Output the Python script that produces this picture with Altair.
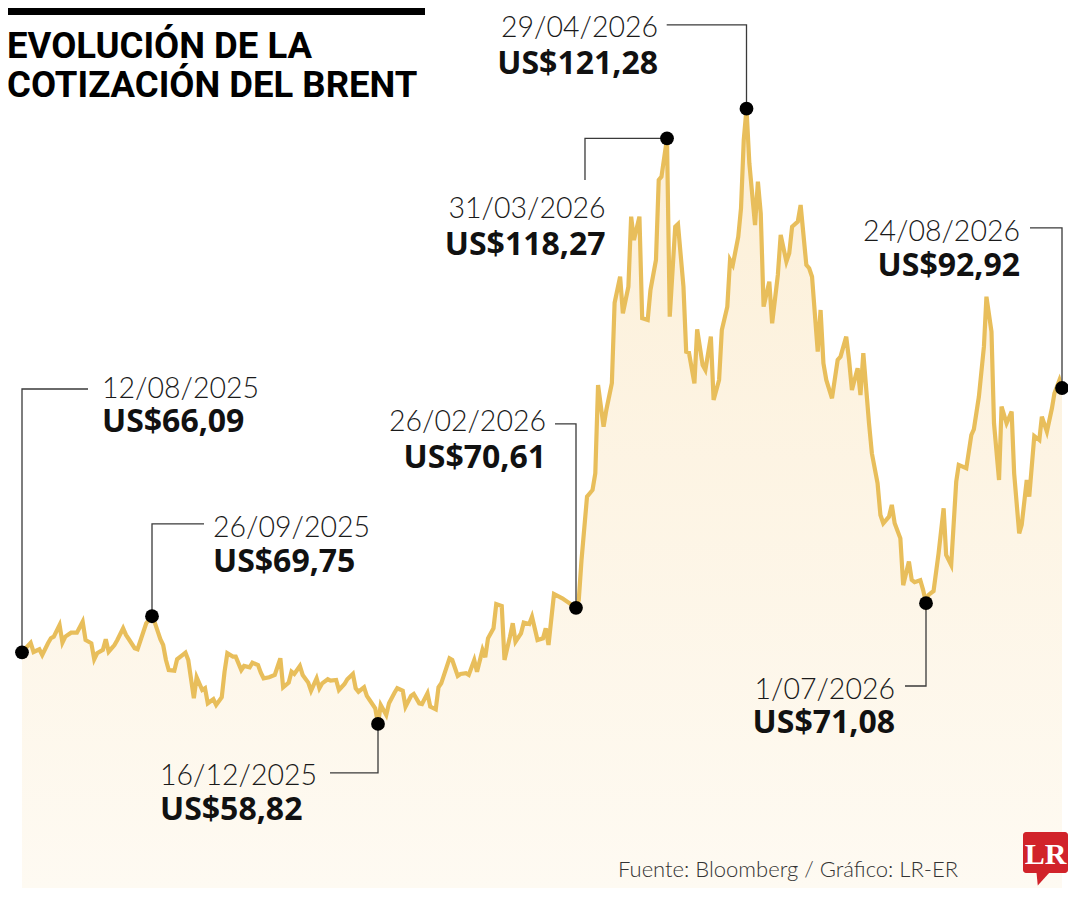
import altair as alt
import pandas as pd

# ---------------- data ----------------
# days elapsed since 12/08/2025 and Brent price (US$/barrel)
DIAS = [0, 3, 4, 6, 7, 9, 10, 11, 13, 14, 15, 17, 19, 21, 22, 24, 25, 26, 28, 29,
        30, 32, 33, 35, 36, 37, 39, 40, 43, 45, 46, 48, 49, 50, 51, 53, 54, 56, 57, 58,
        60, 61, 63, 64, 65, 67, 68, 70, 71, 72, 74, 75, 77, 78, 80, 81, 83, 84, 85, 87,
        89, 91, 92, 94, 95, 96, 98, 99, 101, 102, 104, 105, 106, 108, 109, 111, 112, 114, 115, 117,
        118, 119, 121, 122, 123, 125, 126, 127, 129, 130, 132, 133, 135, 136, 138, 139, 141, 142, 144, 145,
        147, 148, 149, 152, 153, 155, 156, 158, 159, 161, 162, 164, 165, 166, 168, 169, 171, 172, 174, 175,
        176, 178, 179, 181, 182, 184, 186, 187, 188, 190, 193, 198, 199, 200, 202, 204, 205, 206, 208, 209,
        211, 212, 214, 215, 217, 218, 219, 221, 222, 224, 225, 227, 228, 229, 231, 232, 234, 235, 237, 238,
        239, 241, 242, 244, 245, 247, 248, 250, 251, 253, 254, 255, 257, 258, 259, 260, 261, 263, 264, 265,
        266, 268, 269, 271, 272, 274, 275, 276, 278, 279, 281, 282, 283, 285, 286, 287, 288, 290, 292, 293,
        295, 296, 297, 299, 300, 301, 303, 304, 306, 307, 308, 310, 311, 312, 314, 315, 317, 318, 319, 321,
        322, 323, 324, 326, 328, 330, 331, 333, 335, 336, 339, 341, 342, 344, 346, 347, 349, 350, 352, 353,
        355, 357, 358, 360, 361, 363, 364, 366, 368, 369, 371, 373, 374, 376, 377]
PRECIOS = [66.09, 67.04, 66.12, 66.40, 65.82, 67.01, 67.51, 67.68, 68.86, 67.07, 67.68, 68.08, 68.08, 69.20, 67.34, 67.01, 65.38, 65.99, 66.33, 67.41,
           66.15, 66.83, 67.34, 68.53, 67.85, 67.41, 66.50, 66.40, 69.04, 69.75, 69.10, 67.41, 66.83, 65.31, 64.29, 64.22, 65.38, 65.82, 66.05, 65.31,
           61.42, 63.55, 62.26, 62.44, 60.91, 61.32, 60.74, 61.52, 64.12, 65.99, 65.65, 65.65, 64.29, 64.70, 64.57, 65.03, 64.80, 64.02, 63.45, 63.55,
           63.79, 65.48, 62.54, 63.01, 64.12, 63.89, 64.70, 63.79, 63.01, 62.19, 63.45, 62.44, 62.94, 63.35, 63.21, 63.28, 62.26, 62.87, 63.35, 63.89,
           62.44, 62.09, 62.54, 61.66, 61.25, 60.41, 58.82, 60.74, 59.73, 60.91, 61.99, 62.44, 62.19, 60.57, 61.66, 61.86, 60.91, 60.84, 61.93, 60.57,
           60.30, 62.54, 62.94, 65.48, 65.31, 63.69, 63.89, 63.96, 63.79, 65.31, 64.12, 66.33, 65.58, 67.51, 68.53, 70.99, 70.79, 65.31, 67.68, 69.04,
           67.17, 68.02, 69.10, 68.96, 69.71, 67.34, 67.51, 68.53, 66.83, 72.01, 71.57, 70.61, 71.40, 75.46, 81.89, 82.57, 84.26, 93.23, 88.99, 90.69,
           93.40, 101.58, 104.22, 100.51, 103.21, 110.32, 107.95, 110.32, 100.00, 99.83, 102.87, 105.92, 114.04, 114.38, 118.27, 100.16, 109.30, 109.57, 103.21, 96.61,
           96.51, 93.40, 98.88, 95.26, 94.75, 98.13, 91.71, 93.74, 98.81, 101.18, 105.92, 105.41, 108.28, 111.17, 118.10, 121.28, 115.74, 109.47, 113.87, 110.66,
           101.18, 103.72, 99.49, 104.40, 108.46, 105.75, 106.60, 109.30, 109.81, 111.50, 105.41, 105.08, 104.22, 96.61, 100.84, 95.43, 93.74, 91.88, 95.77, 96.10,
           98.13, 95.77, 92.72, 94.92, 92.21, 96.45, 89.34, 86.29, 83.25, 80.03, 79.19, 79.86, 81.05, 79.19, 77.66, 72.90, 75.30, 73.43, 73.20, 73.40,
           72.40, 71.08, 71.91, 72.31, 76.14, 80.71, 75.97, 74.95, 83.41, 85.11, 84.77, 88.15, 88.73, 92.04, 97.12, 102.19, 98.64, 89.34, 83.58, 91.03,
           89.34, 90.52, 84.26, 78.17, 79.02, 83.58, 81.89, 88.05, 87.64, 90.01, 88.49, 90.86, 92.39, 93.74, 92.92]

ANOT_FECHAS = ["12/08/2025", "26/09/2025", "16/12/2025", "26/02/2026",
               "31/03/2026", "29/04/2026", "1/07/2026", "24/08/2026"]
ANOT_DIAS = [0, 45, 126, 198, 231, 260, 323, 377]
ANOT_PRECIOS = [66.09, 69.75, 58.82, 70.61, 118.27, 121.28, 71.08, 92.92]

TITULO_1 = "EVOLUCIÓN DE LA"
TITULO_2 = "COTIZACIÓN DEL BRENT"
FUENTE = "Fuente: Bloomberg / Gráfico: LR-ER"

# ---------------- layout ----------------
W, H = 1060, 880
X_RANGO = [14, 144, 370, 568, 659, 738.5, 918, 1054]   # pixel position of each anchor date
Y_DOM = [42.16, 131.50]

# leader lines (day, price level) per annotation
GUIAS = [
    [(0, 66.09), (0, 92.82), (22.85, 92.82)],
    [(45, 69.75), (45, 79.12), (63.64, 79.12)],
    [(126, 58.82), (126, 53.84), (108.80, 53.84)],
    [(198, 70.61), (198, 89.27), (190.36, 89.27)],
    [(201.26, 114.04), (201.26, 118.27), (231, 118.27)],
    [(260, 121.28), (260, 129.78), (230.89, 129.78)],
    [(323, 71.08), (323, 62.67), (315.63, 62.67)],
    [(377, 92.92), (377, 109.17), (364.29, 109.17)],
]
# label anchor: day, alignment, baseline level of date, baseline level of value
ETIQ = [
    (27.69, "left", 91.91, 88.46),
    (66.86, "left", 77.80, 74.24),
    (47.87, "left", 52.62, 49.07),
    (187.09, "right", 88.56, 84.80),
    (208.70, "right", 110.13, 106.43),
    (227.74, "right", 128.51, 124.85),
    (312.12, "right", 61.35, 57.90),
    (360.32, "right", 107.85, 104.30),
]

ORO = "#E8BE5B"
FONT_LIGHT = "Lato"
FONT_BOLD = "Open Sans"
FONT_TIT = "Roboto"

# ---------------- frames ----------------
serie = pd.DataFrame({"dia": DIAS, "precio": PRECIOS})

puntos = pd.DataFrame({"dia": ANOT_DIAS, "precio": ANOT_PRECIOS})

guias = pd.DataFrame(
    [{"id": i, "orden": j, "dia": d, "precio": p}
     for i, g in enumerate(GUIAS) for j, (d, p) in enumerate(g)]
)

etq = pd.DataFrame([
    {"dia": e[0], "al": e[1], "yf": e[2], "yv": e[3], "fecha": f,
     "valor": "US$" + f"{v:.2f}".replace(".", ",")}
    for e, f, v in zip(ETIQ, ANOT_FECHAS, ANOT_PRECIOS)
])


def X(field="dia"):
    return alt.X(f"{field}:Q", scale=alt.Scale(domain=ANOT_DIAS, range=X_RANGO), axis=None)


def Y(field="precio"):
    return alt.Y(f"{field}:Q", scale=alt.Scale(domain=Y_DOM, nice=False, zero=False), axis=None)


gradiente = alt.Gradient(
    gradient="linear",
    stops=[alt.GradientStop(color="#FCEFD7", offset=0),
           alt.GradientStop(color="#FEFAF2", offset=1)],
    x1=1, x2=1, y1=0, y2=1,
)

area = alt.Chart(serie).mark_area(color=gradiente).encode(
    x=X(), y=Y(), y2=alt.datum(Y_DOM[0]))
linea = alt.Chart(serie).mark_line(color=ORO, strokeWidth=4.2).encode(x=X(), y=Y())

lider = alt.Chart(guias).mark_line(color="#3a3a3a", strokeWidth=1.3).encode(
    x=X(), y=Y(), detail="id:N", order="orden:Q")

dots = alt.Chart(puntos).mark_circle(size=190, color="#000000", opacity=1).encode(x=X(), y=Y())

textos = []
for al in ["left", "right"]:
    sub = etq[etq["al"] == al]
    textos.append(alt.Chart(sub).mark_text(
        align=al, baseline="alphabetic", font=FONT_LIGHT, fontSize=28.5, fontWeight=300, color="#1a1a1a"
    ).encode(x=X(), y=Y("yf"), text="fecha:N"))
    textos.append(alt.Chart(sub).mark_text(
        align=al, baseline="alphabetic", font=FONT_BOLD, fontSize=32, fontWeight="bold", color="#111111"
    ).encode(x=X(), y=Y("yv"), text="valor:N"))

uno = pd.DataFrame({"k": [0]})

barra = alt.Chart(uno).mark_rect(color="#000000").encode(
    x=alt.value(0), x2=alt.value(417), y=alt.value(0), y2=alt.value(7))

tit1 = alt.Chart(pd.DataFrame({"t": [TITULO_1]})).mark_text(
    align="left", baseline="alphabetic", font=FONT_TIT, fontSize=36.5,
    fontWeight="bold", color="#000000").encode(x=alt.value(-1), y=alt.value(50), text="t:N")
tit2 = alt.Chart(pd.DataFrame({"t": [TITULO_2]})).mark_text(
    align="left", baseline="alphabetic", font=FONT_TIT, fontSize=36.5,
    fontWeight="bold", color="#000000").encode(x=alt.value(-1), y=alt.value(89), text="t:N")

fuente = alt.Chart(pd.DataFrame({"t": [FUENTE]})).mark_text(
    align="left", baseline="alphabetic", font=FONT_LIGHT, fontSize=22, fontWeight=300,
    color="#333333").encode(x=alt.value(610), y=alt.value(869), text="t:N")

logo = alt.Chart(uno).mark_rect(color="#D1232A", cornerRadius=3).encode(
    x=alt.value(1015), x2=alt.value(1060), y=alt.value(824), y2=alt.value(865))
cola = alt.Chart(uno).mark_point(
    shape="M -1 -1 L 1 -1 L -0.8 1 Z", size=170, filled=True, color="#D1232A", opacity=1
).encode(x=alt.value(1035), y=alt.value(871))
lr = alt.Chart(pd.DataFrame({"t": ["LR"]})).mark_text(
    align="center", baseline="alphabetic", font="Liberation Serif", fontSize=30,
    fontWeight="bold", color="#FFFFFF").encode(x=alt.value(1037.5), y=alt.value(856), text="t:N")

chart = alt.layer(
    area, linea, lider, dots, *textos, barra, tit1, tit2, fuente, logo, cola, lr
).properties(
    width=W, height=H, padding=0, background="#FFFFFF",
    autosize=alt.AutoSizeParams(type="none"),
).configure_view(stroke=None)

chart.save("out.html", embed_options={"renderer": "svg", "actions": False})
